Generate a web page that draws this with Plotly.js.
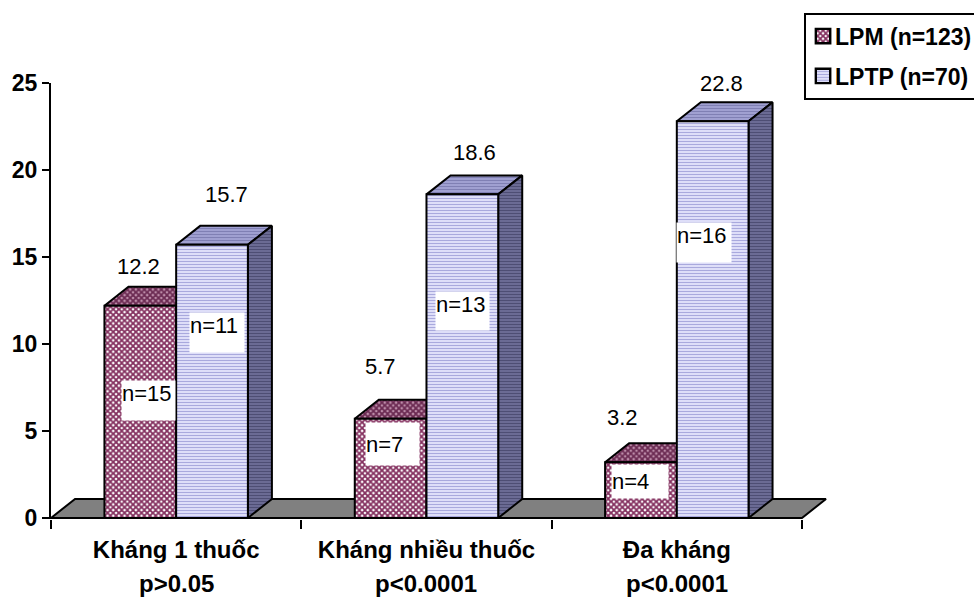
<!DOCTYPE html>
<html>
<head>
<meta charset="utf-8">
<script src="https://cdn.plot.ly/plotly-3.0.1.min.js"></script>
<style>html,body{margin:0;padding:0;background:#fff;overflow:hidden}#chart{width:974px;height:598px}</style>
</head>
<body>
<div id="chart"></div>
<script>
// Resistance rates by group, drawn as pseudo-3D columns
const categories = ['Kháng 1 thuốc', 'Kháng nhiều thuốc', 'Đa kháng'];
const pValues = ['p>0.05', 'p<0.0001', 'p<0.0001'];
const centres = [0.5, 1.5, 2.5];
const lpm = [12.2, 5.7, 3.2];
const lptp = [15.7, 18.6, 22.8];
const lpmCounts = ['n=15', 'n=7', 'n=4'];
const lptpCounts = ['n=11', 'n=13', 'n=16'];
const yTicks = [0, 5, 10, 15, 20, 25];
const xBoundaries = [0, 1, 2, 3];

// Extrusion of the columns and floor, in axis units
const depthX = 0.096, depthY = 1.09;
const barHalf = 0.2865;

const FONT = 'Liberation Sans, Arial, sans-serif';

// Closed polygon helper for the extruded faces
const face = (xs, ys, fillcolor, fillpattern) => ({
  type: 'scatter', mode: 'lines', x: xs.concat(xs[0]), y: ys.concat(ys[0]),
  fill: 'toself', fillcolor, fillpattern, showlegend: false,
  hoverinfo: 'skip', line: {color: '#000', width: 2}, xaxis: 'x', yaxis: 'y'
});

const floor = face([0, depthX, 3 + depthX, 3], [0, depthY, depthY, 0], '#808080');

const checked = (fg, bg) => ({shape: 'x', size: 4, solidity: 0.7, fgcolor: fg, bgcolor: bg, fillmode: 'replace'});
const striped = (fg, bg) => ({shape: '-', size: 3, solidity: 0.4, fgcolor: fg, bgcolor: bg, fillmode: 'replace'});

const traces = [floor];
centres.forEach((c, i) => {
  const l = c - barHalf, m = c, r = c + barHalf;
  traces.push(face([l, l + depthX, m + depthX, m], [lpm[i], lpm[i] + depthY, lpm[i] + depthY, lpm[i]],
    '#a0527f', checked('#6b2a52', '#c090ac')));
  traces.push(face([m, m + depthX, r + depthX, r], [lptp[i], lptp[i] + depthY, lptp[i] + depthY, lptp[i]],
    '#9999cc', striped('#8080b4', '#a4a4d4')));
  traces.push(face([r, r + depthX, r + depthX, r], [0, depthY, lptp[i] + depthY, lptp[i]],
    '#666699', striped('#4e4e74', '#6e6e98')));
});

traces.push({
  type: 'bar', name: 'LPM (n=123)', legendgroup: 'lpm', x: centres, y: lpm, xaxis: 'x2', yaxis: 'y2', hoverinfo: 'skip',
  marker: {color: '#fff', line: {color: '#000', width: 2}, pattern: checked('#84305f', '#ffffff')}
});
traces.push({
  type: 'bar', name: 'LPTP (n=70)', legendgroup: 'lptp', x: centres, y: lptp, xaxis: 'x2', yaxis: 'y2', hoverinfo: 'skip',
  marker: {color: '#ccf', line: {color: '#000', width: 2}, pattern: striped('#a9a9dd', '#e4e4fb')}
});

// Value captions and white count tags, placed in axis units
const valueCaptionX = [0.348, 0.703, 1.318, 1.69, 2.285, 2.68];
const valueCaptionY = [14.48, 18.6, 8.68, 21.03, 5.8, 25.0];
const valueCaptions = [lpm[0], lptp[0], lpm[1], lptp[1], lpm[2], lptp[2]];
const countX = [0.3895, 0.663, 1.364, 1.644, 2.353, 2.608];
const countY = [6.75, 10.66, 4.25, 11.9, 2.1, 15.83];
const countWidths = [53, 54, 53, 53, 56, 54];
const countHeights = [39, 39, 42, 38, 33, 39];
const countAlign = ['top', 'top', 'middle', 'top', 'middle', 'top'];
const countText = [lpmCounts[0], lptpCounts[0], lpmCounts[1], lptpCounts[1], lpmCounts[2], lptpCounts[2]];

const annotations = [];
valueCaptions.forEach((v, i) => annotations.push({
  x: valueCaptionX[i], y: valueCaptionY[i], xref: 'x', yref: 'y', text: v.toFixed(1),
  showarrow: false, font: {family: FONT, size: 22, color: '#000'}
}));
countText.forEach((t, i) => annotations.push({
  x: countX[i], y: countY[i], xref: 'x', yref: 'y', text: t, showarrow: false,
  width: countWidths[i], height: countHeights[i], bgcolor: '#fff', borderpad: 0, align: 'left', valign: countAlign[i],
  font: {family: FONT, size: 22, color: '#000'}
}));
pValues.forEach((t, i) => annotations.push({
  x: centres[i], y: 0, xref: 'x', yref: 'y', yshift: -66, text: t, showarrow: false,
  font: {family: FONT, size: 24, color: '#000', weight: 700}
}));

const layout = {
  width: 974, height: 598, autosize: false, showlegend: true,
  paper_bgcolor: '#fff', plot_bgcolor: 'rgba(0,0,0,0)',
  margin: {l: 51, r: 147, t: 83, b: 79, autoexpand: false},
  barmode: 'group', bargap: 0.427, bargroupgap: 0,
  xaxis: {
    range: [0, 3.1], tickvals: xBoundaries, showticklabels: false, ticks: 'outside', ticklen: 9,
    tickwidth: 2, tickcolor: '#000', showline: false,
    showgrid: false, zeroline: false, fixedrange: true
  },
  yaxis: {
    range: [-0.06, 25], tickvals: yTicks, ticks: 'outside', ticklen: 7, tickwidth: 2, tickcolor: '#000',
    showline: true, linecolor: '#000', linewidth: 2, showgrid: false, zeroline: false, fixedrange: true,
    tickfont: {family: FONT, size: 23, color: '#000', weight: 700}
  },
  xaxis2: {
    overlaying: 'x', anchor: 'y2', range: [0, 3.1], tickvals: centres, ticktext: categories, ticks: '',
    showline: false, showgrid: false, zeroline: false, fixedrange: true, ticklabelstandoff: 14,
    tickfont: {family: FONT, size: 24, color: '#000', weight: 700}
  },
  yaxis2: {overlaying: 'y', anchor: 'x2', range: [-0.06, 25], visible: false, fixedrange: true},
  legend: {
    x: 0.9704, xanchor: 'left', y: 1.1615, yanchor: 'top', bgcolor: '#fff', bordercolor: '#000', borderwidth: 2,
    font: {family: FONT, size: 23, color: '#000', weight: 700}, traceorder: 'grouped', tracegroupgap: 7, itemwidth: 30
  },
  annotations
};

Plotly.newPlot('chart', traces, layout, {displayModeBar: false, staticPlot: true}).then(() => {
  // Tighten the legend keys against their labels
  document.querySelectorAll('#chart .legend .traces').forEach(item => {
    const symbols = item.querySelector('.legendsymbols');
    if (symbols) symbols.setAttribute('transform', 'translate(-7,0) scale(1.2)');
    const label = item.querySelector('.legendtext');
    if (label) label.setAttribute('x', Number(label.getAttribute('x')) - 11);
  });
});
</script>
</body>
</html>
